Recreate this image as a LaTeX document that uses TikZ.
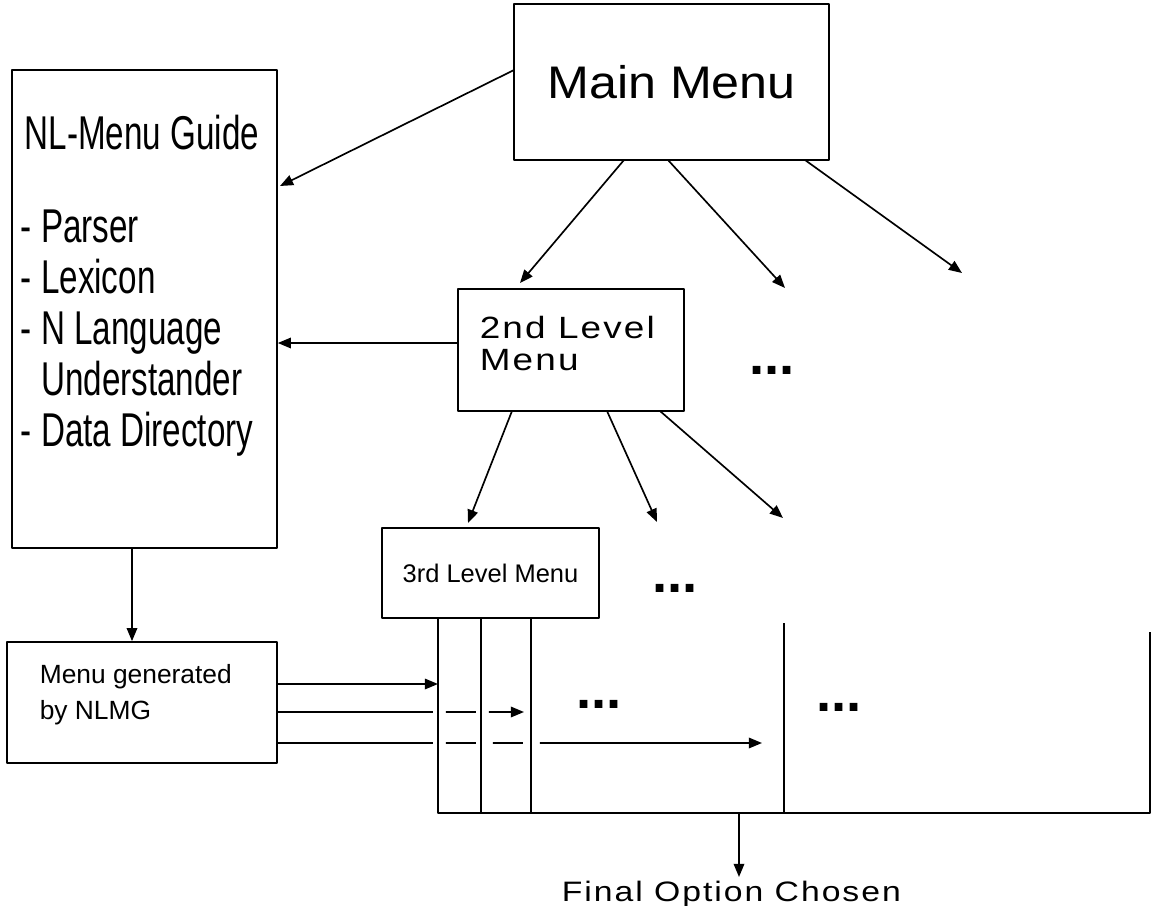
\documentclass[tikz,border=0pt]{standalone}
\usepackage{fontspec}
\setmainfont{Liberation Sans}
\newfontfamily\narrowfont[FakeStretch=0.7]{Liberation Sans}
\newfontfamily\menufont[FakeStretch=1.1]{Liberation Sans}
\newfontfamily\widefont[FakeStretch=1.2,LetterSpace=7]{Liberation Sans}
\usetikzlibrary{arrows.meta}
\tikzset{
  box/.style={draw, inner sep=0pt},
  txt/.style={inner sep=0pt},
  dots/.style={inner sep=0pt, anchor=base, font=\fontsize{31}{31}\selectfont\bfseries},
}
\begin{document}
\begin{tikzpicture}[x=0.02cm, y=-0.02cm, line width=0.95pt, line join=round, >={Triangle[length=7.5pt,width=6pt]}]
	\useasboundingbox (0,0) rectangle (1157,906);
	% boxes
	\node[box, minimum width=6.3cm, minimum height=3.12cm, font=\fontsize{26}{30}\menufont] (main) at (671.5,82) {Main Menu};
	\node[box, minimum width=5.3cm, minimum height=9.56cm] (guide) at (144.5,309) {};
	\node[box, minimum width=4.52cm, minimum height=2.44cm] (second) at (571,350) {};
	\node[box, minimum width=4.34cm, minimum height=1.8cm, font=\fontsize{14.5}{18}\selectfont] (third) at (490.5,573) {3rd Level Menu};
	\node[box, minimum width=5.4cm, minimum height=2.42cm] (menugen) at (142,702.5) {};
	% texts
	\node[txt, anchor=base, font=\fontsize{27}{31}\narrowfont] (guidetitle) at (142,149) {NL-Menu Guide};
	\foreach \item [count=\i] in {- Parser, - Lexicon, - N Language, \phantom{- }Understander, - Data Directory}
		\node[txt, anchor=base west, font=\fontsize{27}{31}\narrowfont] (guideitem\i) at (20,{242+51*(\i-1)}) {\item};
	\node[txt, anchor=north west, align=left, font=\fontsize{17.5}{18.5}\widefont] (secondtext) at (479,315) {2nd Level\\Menu};
	\node[txt, anchor=north west, align=left, font=\fontsize{15}{20}\selectfont] (menugentext) at (39,664) {Menu generated\\by NLMG};
	\node[txt, anchor=base west, font=\fontsize{16}{18}\widefont] (final) at (561,901) {Final Option Chosen};
	\node[dots] (dotsA) at (772,374) {...};
	\node[dots] (dotsB) at (675,592) {...};
	\node[dots] (dotsC) at (599,708) {...};
	\node[dots] (dotsD) at (839,711) {...};
	% arrow ends
	\coordinate (m0) at (514,70);
	\coordinate (g0) at (280,186);
	\coordinate (m1) at (624,160);
	\coordinate (m2) at (668,160);
	\coordinate (m3) at (805,160);
	\coordinate (t1) at (520,283);
	\coordinate (t2) at (785,288);
	\coordinate (t3) at (962,273);
	\coordinate (s1) at (512,411);
	\coordinate (s2) at (607,411);
	\coordinate (s3) at (660,411);
	\coordinate (u1) at (468,523);
	\coordinate (u2) at (657,522);
	\coordinate (u3) at (783,518);
	\coordinate (c1) at (438,618);
	\coordinate (c2) at (481,618);
	\coordinate (c3) at (531,618);
	\coordinate (c4) at (784,623);
	\coordinate (c5) at (1150,632);
	\coordinate (f0) at (739,813);
	\coordinate (f1) at (739,877);
	\coordinate (r1) at ([yshift=0.37cm]menugen.east);
	\coordinate (r2) at ([yshift=-0.19cm]menugen.east);
	\coordinate (r3) at ([yshift=-0.81cm]menugen.east);
	% connectors
	\draw[->] (m0) -- (g0);
	\draw[->] (m1) -- (t1);
	\draw[->] (m2) -- (t2);
	\draw[->] (m3) -- (t3);
	\draw[->] (second.west |- 0,343) -- (guide.east |- 0,343);
	\draw[->] (s1) -- (u1);
	\draw[->] (s2) -- (u2);
	\draw[->] (s3) -- (u3);
	\draw[->] (guide.south -| 132,0) -- (menugen.north -| 132,0);
	% columns
	\draw (c1) -- (c1 |- f0) -- (c5 |- f0) -- (c5);
	\draw (c2) -- (c2 |- f0);
	\draw (c3) -- (c3 |- f0);
	\draw (c4) -- (c4 |- f0);
	\draw[->] (f0) -- (f1);
	% options of the generated menu
	\draw[->] (r1) -- (r1 -| c1);
	\draw[->, dash pattern=on 88.2pt off 7.4pt on 17.1pt off 7.4pt on 40pt] (r2) -- (524,712);
	\draw[->, dash pattern=on 88.2pt off 7.4pt on 17.1pt off 9.7pt on 17.1pt off 9.7pt on 140pt] (r3) -- (762,743);
\end{tikzpicture}
\end{document}
